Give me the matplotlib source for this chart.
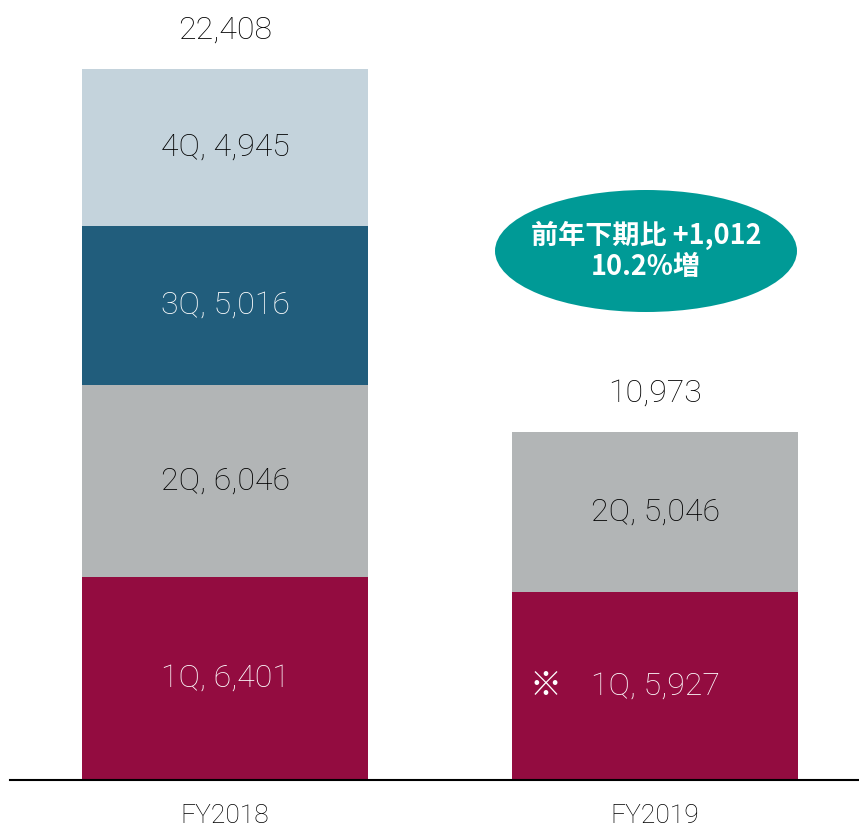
import matplotlib
matplotlib.use("Agg")
import matplotlib.pyplot as plt
from matplotlib.patches import Ellipse

plt.rcParams['font.family'] = ['Roboto', 'Noto Sans CJK JP', 'DejaVu Sans']

categories = ["FY2018", "FY2019"]
quarters = ["1Q", "2Q", "3Q", "4Q"]
values = {
    "1Q": [6401, 5927],
    "2Q": [6046, 5046],
    "3Q": [5016, 0],
    "4Q": [4945, 0],
}
totals = [22408, 10973]
colors = {"1Q": "#930C40", "2Q": "#B2B5B6", "3Q": "#215D7C", "4Q": "#C4D3DC"}
text_colors = {"1Q": "white", "2Q": "black", "3Q": "white", "4Q": "black"}
callout = "前年下期比 +1,012\n10.2%増"

W, H = 859, 827
fig = plt.figure(figsize=(W / 100, H / 100), dpi=100)
base_px = 780
ax = fig.add_axes([10 / W, (H - base_px) / H, (858 - 10) / W, base_px / H])
scale = 711 / 22408  # px per unit
ax.set_ylim(0, base_px / scale)
ax.set_xlim(-(225 - 10) / 430, 1 + (858 - 655) / 430)
bw = 286 / 430

FS = 23
WT = "light"
x = list(range(len(categories)))
bottoms = [0, 0]
for q in quarters:
    vals = values[q]
    for i, v in enumerate(vals):
        if v <= 0:
            continue
        ax.bar(x[i], v, bw, bottom=bottoms[i], color=colors[q], linewidth=0)
        label = f"{q}, {v:,}"
        ax.text(x[i], bottoms[i] + v / 2, label, ha="center", va="center",
                fontsize=FS, fontweight=WT, color=text_colors[q])
        if q == "1Q" and i == 1:
            ax.text(x[i] - 110 / 430, bottoms[i] + v / 2, "※", ha="center", va="center",
                    fontsize=FS, color="white", family=["Noto Sans CJK JP", "DejaVu Sans"])
        bottoms[i] += v

for i, t in enumerate(totals):
    ax.text(x[i], t + 39 / scale, f"{t:,}", ha="center", va="center", fontsize=FS,
            fontweight=WT, color="black")

ax.set_xticks(x)
ax.set_xticklabels(categories, fontsize=19, fontweight=WT, color="black")
ax.tick_params(axis="x", length=0, pad=17)
ax.set_yticks([])
for s in ["top", "left", "right"]:
    ax.spines[s].set_visible(False)
ax.spines["bottom"].set_linewidth(1.5)
ax.spines["bottom"].set_color("black")

ex = (646 - 225) / 430
ey = (base_px - 251) / scale
ell = Ellipse((ex, ey), 302 / 430, 122 / scale, facecolor="#009A96", edgecolor="none", zorder=3)
ax.add_patch(ell)
ax.text(ex, ey, callout, ha="center", va="center", fontsize=19.5, fontweight="bold",
        color="white", zorder=4, linespacing=1.15, family=["Noto Sans CJK JP", "DejaVu Sans"])

fig.savefig("out.png", dpi=100)
